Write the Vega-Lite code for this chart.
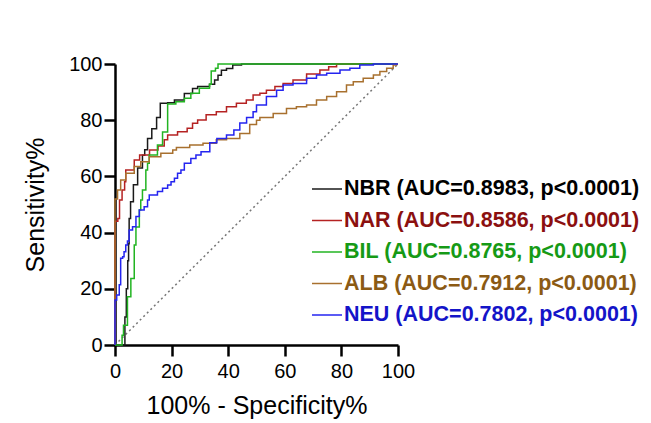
{
  "$schema": "https://vega.github.io/schema/vega-lite/v6.json",
  "width": 283,
  "height": 281,
  "autosize": {"type": "none"},
  "padding": {"left": 115, "top": 64, "right": 253, "bottom": 78},
  "background": "white",
  "config": {
    "view": {"stroke": null},
    "font": "Liberation Sans",
    "axis": {"grid": false, "labelFlush": false, "domainColor": "#000", "domainWidth": 2.5, "tickColor": "#000", "tickWidth": 2.5, "tickSize": 11, "labelFont": "Liberation Sans", "labelFontSize": 20, "labelColor": "#000", "titleFont": "Liberation Sans", "titleFontSize": 25, "titleFontWeight": "normal", "titleColor": "#000"}
  },
  "layer": [
    {
      "data": {"values": [{"fpr": 0, "tpr": 0}, {"fpr": 100, "tpr": 100}]},
      "mark": {"type": "line", "color": "#777777", "strokeWidth": 1.5, "strokeDash": [2, 3]},
      "encoding": {
        "x": {"field": "fpr", "type": "quantitative"},
        "y": {"field": "tpr", "type": "quantitative"}
      }
    },
    {
      "data": {"values": [
        {"s": "NBR", "fpr": 0, "tpr": 0}, {"s": "NBR", "fpr": 3, "tpr": 0}, {"s": "NBR", "fpr": 3.5, "tpr": 10}, {"s": "NBR", "fpr": 4, "tpr": 20}, {"s": "NBR", "fpr": 4.5, "tpr": 30}, {"s": "NBR", "fpr": 4.8, "tpr": 36}, {"s": "NBR", "fpr": 5, "tpr": 45}, {"s": "NBR", "fpr": 5.5, "tpr": 51}, {"s": "NBR", "fpr": 6.5, "tpr": 57}, {"s": "NBR", "fpr": 8, "tpr": 63}, {"s": "NBR", "fpr": 9.7, "tpr": 67.5}, {"s": "NBR", "fpr": 10.5, "tpr": 69.5}, {"s": "NBR", "fpr": 11.5, "tpr": 73.5}, {"s": "NBR", "fpr": 13, "tpr": 77}, {"s": "NBR", "fpr": 14.7, "tpr": 81}, {"s": "NBR", "fpr": 16, "tpr": 86}, {"s": "NBR", "fpr": 18.6, "tpr": 86.2}, {"s": "NBR", "fpr": 21, "tpr": 87.2}, {"s": "NBR", "fpr": 24.5, "tpr": 89.5}, {"s": "NBR", "fpr": 27.4, "tpr": 91.3}, {"s": "NBR", "fpr": 29.2, "tpr": 92}, {"s": "NBR", "fpr": 33.4, "tpr": 92.8}, {"s": "NBR", "fpr": 35.2, "tpr": 94.3}, {"s": "NBR", "fpr": 36.4, "tpr": 96}, {"s": "NBR", "fpr": 37.6, "tpr": 97.8}, {"s": "NBR", "fpr": 39.4, "tpr": 98.4}, {"s": "NBR", "fpr": 41.6, "tpr": 99.6}, {"s": "NBR", "fpr": 44.7, "tpr": 100}, {"s": "NBR", "fpr": 100, "tpr": 100},
        {"s": "NAR", "fpr": 0, "tpr": 0}, {"s": "NAR", "fpr": 0, "tpr": 44}, {"s": "NAR", "fpr": 1, "tpr": 45}, {"s": "NAR", "fpr": 1.6, "tpr": 51.6}, {"s": "NAR", "fpr": 2.5, "tpr": 55.2}, {"s": "NAR", "fpr": 3.4, "tpr": 58.1}, {"s": "NAR", "fpr": 3.8, "tpr": 62.3}, {"s": "NAR", "fpr": 6.8, "tpr": 65.8}, {"s": "NAR", "fpr": 8.7, "tpr": 67.6}, {"s": "NAR", "fpr": 12.2, "tpr": 69.4}, {"s": "NAR", "fpr": 15.2, "tpr": 70.8}, {"s": "NAR", "fpr": 17.4, "tpr": 73}, {"s": "NAR", "fpr": 18.6, "tpr": 74.7}, {"s": "NAR", "fpr": 22.1, "tpr": 75.9}, {"s": "NAR", "fpr": 25.5, "tpr": 77.1}, {"s": "NAR", "fpr": 27.4, "tpr": 78.9}, {"s": "NAR", "fpr": 29.2, "tpr": 80.1}, {"s": "NAR", "fpr": 32.2, "tpr": 81.9}, {"s": "NAR", "fpr": 35.8, "tpr": 83}, {"s": "NAR", "fpr": 39.4, "tpr": 84.8}, {"s": "NAR", "fpr": 42.9, "tpr": 86}, {"s": "NAR", "fpr": 46.4, "tpr": 87.2}, {"s": "NAR", "fpr": 48.8, "tpr": 89}, {"s": "NAR", "fpr": 51.2, "tpr": 89.6}, {"s": "NAR", "fpr": 53.5, "tpr": 90.7}, {"s": "NAR", "fpr": 56.5, "tpr": 92}, {"s": "NAR", "fpr": 59.4, "tpr": 93.1}, {"s": "NAR", "fpr": 62.9, "tpr": 94.3}, {"s": "NAR", "fpr": 67.7, "tpr": 96.4}, {"s": "NAR", "fpr": 72.4, "tpr": 97.9}, {"s": "NAR", "fpr": 75.5, "tpr": 99}, {"s": "NAR", "fpr": 78.3, "tpr": 100}, {"s": "NAR", "fpr": 100, "tpr": 100},
        {"s": "BIL", "fpr": 0, "tpr": 0}, {"s": "BIL", "fpr": 1.5, "tpr": 0}, {"s": "BIL", "fpr": 2.5, "tpr": 3.5}, {"s": "BIL", "fpr": 3, "tpr": 7}, {"s": "BIL", "fpr": 4.4, "tpr": 17.2}, {"s": "BIL", "fpr": 5.6, "tpr": 23.7}, {"s": "BIL", "fpr": 6.8, "tpr": 35.6}, {"s": "BIL", "fpr": 7.4, "tpr": 42}, {"s": "BIL", "fpr": 8.6, "tpr": 48}, {"s": "BIL", "fpr": 9.1, "tpr": 51.6}, {"s": "BIL", "fpr": 9.7, "tpr": 55.2}, {"s": "BIL", "fpr": 10.9, "tpr": 62.3}, {"s": "BIL", "fpr": 11.5, "tpr": 64.7}, {"s": "BIL", "fpr": 12.1, "tpr": 67.6}, {"s": "BIL", "fpr": 15, "tpr": 71.2}, {"s": "BIL", "fpr": 16.8, "tpr": 75.8}, {"s": "BIL", "fpr": 18.6, "tpr": 85.8}, {"s": "BIL", "fpr": 21.5, "tpr": 86.6}, {"s": "BIL", "fpr": 24.5, "tpr": 87.8}, {"s": "BIL", "fpr": 26.8, "tpr": 89.6}, {"s": "BIL", "fpr": 29.8, "tpr": 91.4}, {"s": "BIL", "fpr": 33.4, "tpr": 92.8}, {"s": "BIL", "fpr": 34, "tpr": 97.5}, {"s": "BIL", "fpr": 35.5, "tpr": 98.5}, {"s": "BIL", "fpr": 36.4, "tpr": 100}, {"s": "BIL", "fpr": 100, "tpr": 100},
        {"s": "ALB", "fpr": 0, "tpr": 0}, {"s": "ALB", "fpr": 0, "tpr": 52}, {"s": "ALB", "fpr": 0.9, "tpr": 55.2}, {"s": "ALB", "fpr": 2, "tpr": 58.7}, {"s": "ALB", "fpr": 3.8, "tpr": 61.1}, {"s": "ALB", "fpr": 6.8, "tpr": 63.5}, {"s": "ALB", "fpr": 9.1, "tpr": 65.2}, {"s": "ALB", "fpr": 12.1, "tpr": 67}, {"s": "ALB", "fpr": 16.2, "tpr": 68.2}, {"s": "ALB", "fpr": 20.4, "tpr": 69.4}, {"s": "ALB", "fpr": 21.7, "tpr": 70.3}, {"s": "ALB", "fpr": 26.4, "tpr": 71.2}, {"s": "ALB", "fpr": 31.1, "tpr": 71.8}, {"s": "ALB", "fpr": 35.8, "tpr": 73}, {"s": "ALB", "fpr": 39.4, "tpr": 73.5}, {"s": "ALB", "fpr": 44.1, "tpr": 75.3}, {"s": "ALB", "fpr": 47.6, "tpr": 78.5}, {"s": "ALB", "fpr": 50, "tpr": 80}, {"s": "ALB", "fpr": 51.2, "tpr": 81}, {"s": "ALB", "fpr": 55.9, "tpr": 82.4}, {"s": "ALB", "fpr": 60.6, "tpr": 84.2}, {"s": "ALB", "fpr": 64.1, "tpr": 84.8}, {"s": "ALB", "fpr": 67.7, "tpr": 85.4}, {"s": "ALB", "fpr": 71.2, "tpr": 87.2}, {"s": "ALB", "fpr": 74.8, "tpr": 88.4}, {"s": "ALB", "fpr": 78.3, "tpr": 90.1}, {"s": "ALB", "fpr": 81.8, "tpr": 92.5}, {"s": "ALB", "fpr": 84.2, "tpr": 93.7}, {"s": "ALB", "fpr": 87.7, "tpr": 94.9}, {"s": "ALB", "fpr": 91.3, "tpr": 96.1}, {"s": "ALB", "fpr": 93.6, "tpr": 97.3}, {"s": "ALB", "fpr": 96, "tpr": 98.5}, {"s": "ALB", "fpr": 98.3, "tpr": 99.6}, {"s": "ALB", "fpr": 99.5, "tpr": 100}, {"s": "ALB", "fpr": 100, "tpr": 100},
        {"s": "NEU", "fpr": 0, "tpr": 0}, {"s": "NEU", "fpr": 0, "tpr": 16}, {"s": "NEU", "fpr": 0.6, "tpr": 17.8}, {"s": "NEU", "fpr": 1.5, "tpr": 21.4}, {"s": "NEU", "fpr": 2, "tpr": 30.9}, {"s": "NEU", "fpr": 2.7, "tpr": 31.4}, {"s": "NEU", "fpr": 3.2, "tpr": 33.2}, {"s": "NEU", "fpr": 3.8, "tpr": 35.6}, {"s": "NEU", "fpr": 4.4, "tpr": 37}, {"s": "NEU", "fpr": 5, "tpr": 40.9}, {"s": "NEU", "fpr": 6.2, "tpr": 42.1}, {"s": "NEU", "fpr": 7.4, "tpr": 45.7}, {"s": "NEU", "fpr": 8.6, "tpr": 48}, {"s": "NEU", "fpr": 10.3, "tpr": 49.2}, {"s": "NEU", "fpr": 11.5, "tpr": 51.6}, {"s": "NEU", "fpr": 12.1, "tpr": 53.4}, {"s": "NEU", "fpr": 15, "tpr": 54.6}, {"s": "NEU", "fpr": 16.8, "tpr": 55.8}, {"s": "NEU", "fpr": 18.6, "tpr": 56.9}, {"s": "NEU", "fpr": 19.8, "tpr": 58.1}, {"s": "NEU", "fpr": 21, "tpr": 59.3}, {"s": "NEU", "fpr": 22.1, "tpr": 61.1}, {"s": "NEU", "fpr": 23.3, "tpr": 62.3}, {"s": "NEU", "fpr": 24.5, "tpr": 64.7}, {"s": "NEU", "fpr": 26.8, "tpr": 66.4}, {"s": "NEU", "fpr": 28.6, "tpr": 67.6}, {"s": "NEU", "fpr": 30.4, "tpr": 68.8}, {"s": "NEU", "fpr": 33.5, "tpr": 72}, {"s": "NEU", "fpr": 36, "tpr": 73.5}, {"s": "NEU", "fpr": 39.4, "tpr": 74.7}, {"s": "NEU", "fpr": 42, "tpr": 76.5}, {"s": "NEU", "fpr": 44.1, "tpr": 79}, {"s": "NEU", "fpr": 46.5, "tpr": 81}, {"s": "NEU", "fpr": 48.8, "tpr": 83}, {"s": "NEU", "fpr": 50, "tpr": 85.4}, {"s": "NEU", "fpr": 53.5, "tpr": 88.4}, {"s": "NEU", "fpr": 57.1, "tpr": 90.7}, {"s": "NEU", "fpr": 59.4, "tpr": 92.5}, {"s": "NEU", "fpr": 62.9, "tpr": 93.1}, {"s": "NEU", "fpr": 67.7, "tpr": 94.9}, {"s": "NEU", "fpr": 71.2, "tpr": 96.1}, {"s": "NEU", "fpr": 74.8, "tpr": 96.7}, {"s": "NEU", "fpr": 79.5, "tpr": 97.9}, {"s": "NEU", "fpr": 83, "tpr": 98.5}, {"s": "NEU", "fpr": 86.5, "tpr": 99.6}, {"s": "NEU", "fpr": 91.3, "tpr": 100}, {"s": "NEU", "fpr": 100, "tpr": 100}
      ]},
      "mark": {"type": "line", "interpolate": "step-after", "strokeWidth": 1.5},
      "encoding": {
        "x": {"field": "fpr", "type": "quantitative", "scale": {"domain": [0, 100], "nice": false}, "axis": {"values": [0, 20, 40, 60, 80, 100], "title": "100% - Specificity%", "labelPadding": 5, "titleX": 141.5, "titleY": 48}},
        "y": {"field": "tpr", "type": "quantitative", "scale": {"domain": [0, 100], "nice": false}, "axis": {"values": [0, 20, 40, 60, 80, 100], "title": "Sensitivity%", "labelPadding": 2, "titleX": -67, "titleY": 140.5}},
        "order": [{"field": "fpr", "type": "quantitative"}, {"field": "tpr", "type": "quantitative"}],
        "color": {
          "field": "s", "type": "nominal",
          "scale": {"domain": ["NBR", "NAR", "BIL", "ALB", "NEU"], "range": ["#1a1a1a", "#b52222", "#22b422", "#a8702e", "#2424f0"]},
          "legend": {
            "title": null, "orient": "none", "legendX": 196, "legendY": 109, "padding": 0,
            "symbolType": "stroke", "symbolSize": 900, "symbolStrokeWidth": 1.5, "labelOffset": 1,
            "labelFont": "Liberation Sans", "labelFontSize": 21.5, "labelFontWeight": "bold", "rowPadding": 4.5, "labelLimit": 400,
            "labelExpr": "datum.label == 'NBR' ? 'NBR (AUC=0.8983, p<0.0001)' : datum.label == 'NAR' ? 'NAR (AUC=0.8586, p<0.0001)' : datum.label == 'BIL' ? 'BIL (AUC=0.8765, p<0.0001)' : datum.label == 'ALB' ? 'ALB (AUC=0.7912, p<0.0001)' : 'NEU (AUC=0.7802, p<0.0001)'",
            "labelColor": {"expr": "datum.value == 'NBR' ? '#000000' : datum.value == 'NAR' ? '#8b1010' : datum.value == 'BIL' ? '#169a16' : datum.value == 'ALB' ? '#8b5a14' : '#1414c8'"}
          }
        }
      }
    }
  ]
}
